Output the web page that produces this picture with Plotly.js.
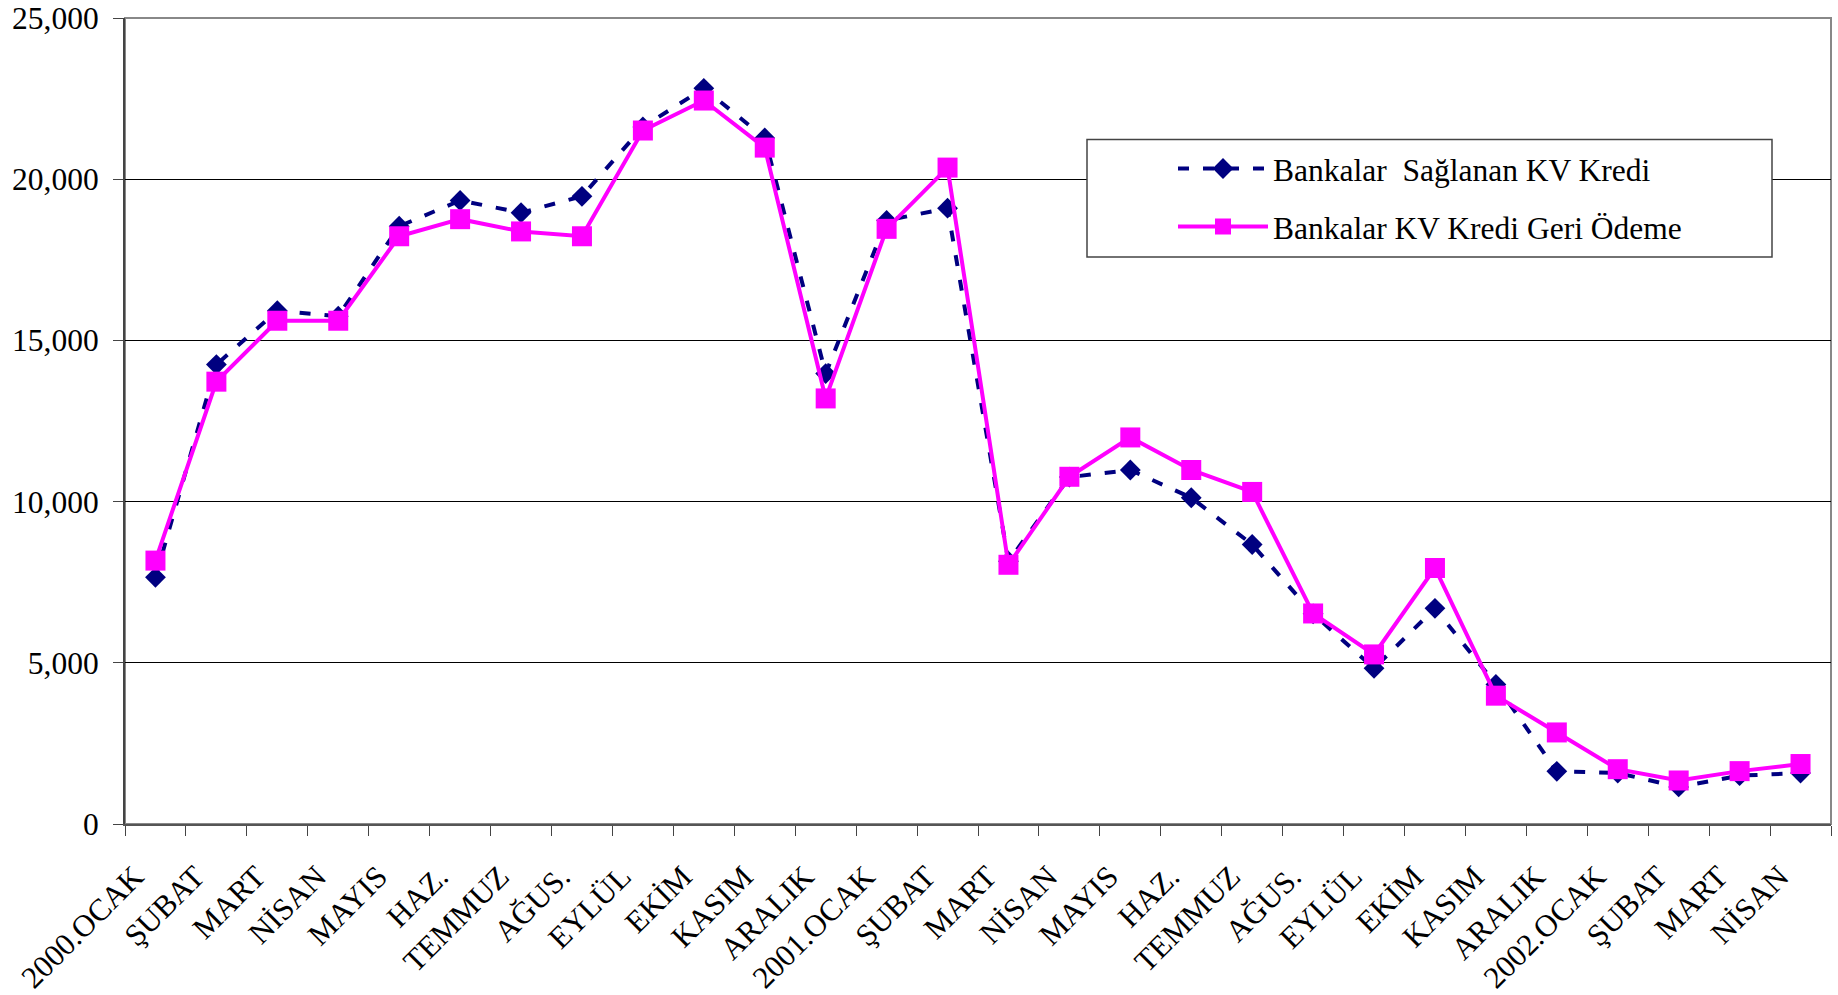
<!DOCTYPE html>
<html>
<head>
<meta charset="utf-8">
<script src="https://cdn.plot.ly/plotly-3.0.1.min.js"></script>
<style>
html,body{margin:0;padding:0;background:#fff;}
#chart{width:1838px;height:995px;}
</style>
</head>
<body>
<div id="chart"></div>
<script>
// Period keys (unique) and their displayed month labels
const periods = ["2000-01","2000-02","2000-03","2000-04","2000-05","2000-06","2000-07","2000-08","2000-09","2000-10","2000-11","2000-12",
                 "2001-01","2001-02","2001-03","2001-04","2001-05","2001-06","2001-07","2001-08","2001-09","2001-10","2001-11","2001-12",
                 "2002-01","2002-02","2002-03","2002-04"];
const monthLabels = ["2000.OCAK","ŞUBAT","MART","NİSAN","MAYIS","HAZ.","TEMMUZ","AĞUS.","EYLÜL","EKİM","KASIM","ARALIK",
                     "2001.OCAK","ŞUBAT","MART","NİSAN","MAYIS","HAZ.","TEMMUZ","AĞUS.","EYLÜL","EKİM","KASIM","ARALIK",
                     "2002.OCAK","ŞUBAT","MART","NİSAN"];
const seriesNames = ["Bankalar  Sağlanan KV Kredi","Bankalar KV Kredi Geri Ödeme"];
const saglananKredi = [7650,14250,15920,15750,18540,19340,18960,19470,21620,22820,21280,13970,
                       18720,19100,8150,10760,10980,10120,8670,6520,4830,6690,4330,1635,
                       1580,1150,1500,1580];
const geriOdeme = [8170,13720,15610,15610,18230,18760,18380,18230,21510,22440,20980,13200,
                   18460,20360,8040,10770,11990,10980,10300,6530,5260,7940,3980,2840,
                   1700,1350,1640,1860];
const yTicks = [0,5000,10000,15000,20000,25000];

const font = "'Liberation Serif','Times New Roman',serif";

const traces = [
  {
    x: periods, y: saglananKredi, name: seriesNames[0], type: "scatter", mode: "lines+markers",
    line: {color: "#000080", width: 4, dash: "11px,14px"},
    marker: {symbol: "diamond", size: 16, color: "#000080"},
    legendgroup: "a"
  },
  {
    x: periods, y: geriOdeme, name: seriesNames[1], type: "scatter", mode: "lines+markers",
    line: {color: "#FF00FF", width: 4},
    marker: {symbol: "square", size: 20, color: "#FF00FF"},
    legendgroup: "b"
  }
];

const L = 125, R = 7, T = 18, B = 171;
const pw = 1838 - L - R, ph = 995 - T - B;
function px2x(p){ return (p - L) / pw; }
function px2y(p){ return (995 - B - p) / ph; }

const layout = {
  width: 1838, height: 995,
  margin: {l: L, r: R, t: T, b: B, pad: 0},
  paper_bgcolor: "#fff", plot_bgcolor: "#fff",
  font: {family: font, color: "#000", size: 30},
  showlegend: true,
  legend: {
    x: px2x(1173), y: px2y(141.5), xanchor: "left", yanchor: "top",
    bgcolor: "rgba(0,0,0,0)", borderwidth: 0,
    font: {family: font, size: 31.5, color: "#000"},
    itemwidth: 90, tracegroupgap: 14, traceorder: "grouped"
  },
  xaxis: {
    type: "category",
    categoryorder: "array", categoryarray: periods,
    tickmode: "array", tickvals: periods, ticktext: monthLabels,
    tickson: "boundaries",
    tickangle: -45,
    ticks: "outside", ticklen: 10, tickwidth: 1, tickcolor: "#444",
    ticklabelstandoff: 20,
    ticklabelshift: -21,
    showline: true, linecolor: "#555", linewidth: 2,
    showgrid: false, zeroline: false,
    tickfont: {family: font, size: 31, color: "#000"},
    range: [-0.5, periods.length - 0.5],
    fixedrange: true
  },
  yaxis: {
    range: [0, 25000],
    tickmode: "array", tickvals: yTicks,
    tickformat: ",d",
    ticks: "outside", ticklen: 10, tickwidth: 1, tickcolor: "#444",
    showline: true, linecolor: "#444", linewidth: 2,
    showgrid: true, gridcolor: "#000", gridwidth: 1,
    zeroline: false,
    ticklabeloverflow: "allow",
    tickfont: {family: font, size: 31.5, color: "#000"},
    ticklabelstandoff: 8,
    fixedrange: true
  },
  shapes: [
    {type: "rect", xref: "paper", yref: "paper", x0: 0, x1: 1, y0: 0, y1: 1,
     line: {color: "#888", width: 2}, fillcolor: "rgba(0,0,0,0)", layer: "below"},
    {type: "rect", xref: "paper", yref: "paper",
     x0: px2x(1087), x1: px2x(1772), y0: px2y(257), y1: px2y(139.5),
     line: {color: "#444", width: 1.5}, fillcolor: "#fff", layer: "above"}
  ]
};

Plotly.newPlot("chart", traces, layout, {displayModeBar: false, staticPlot: true});
</script>
</body>
</html>
